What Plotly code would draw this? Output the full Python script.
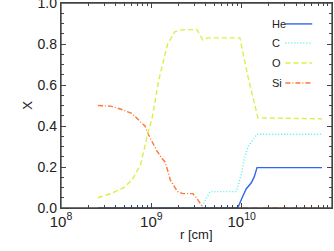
import plotly.graph_objects as go

# log10(r [cm]) and mass fractions
he_logr = [8.41, 9.956, 10.01, 10.05, 10.107, 10.14, 10.17, 10.89]
he_x    = [0.0,  0.0,   0.055, 0.093, 0.123, 0.153, 0.197, 0.197]

c_logr = [8.41, 9.55, 9.65, 9.94, 10.0, 10.03, 10.07, 10.12, 10.17, 10.89]
c_x    = [0.0,  0.0,  0.08, 0.08, 0.17, 0.24,  0.30,  0.33,  0.36,  0.36]

o_logr = [8.41, 8.55, 8.70, 8.79, 8.88, 8.93, 8.97, 9.01, 9.08, 9.18, 9.26, 9.35, 9.505, 9.57, 9.63, 9.98, 10.07, 10.18, 10.89]
o_x    = [0.05, 0.07, 0.10, 0.14, 0.21, 0.31, 0.38, 0.44, 0.62, 0.80, 0.86, 0.87, 0.87,  0.82, 0.83, 0.83, 0.64,  0.44,  0.435]

si_logr = [8.41, 8.55, 8.69, 8.79, 8.88, 8.93, 8.97, 9.01, 9.06, 9.12, 9.15, 9.19, 9.21, 9.29, 9.35, 9.46, 9.50, 9.575, 10.89]
si_x    = [0.50, 0.497, 0.478, 0.46, 0.42, 0.40, 0.356, 0.32, 0.28, 0.24, 0.226, 0.17, 0.137, 0.08, 0.07, 0.07, 0.05, 0.0, 0.0]

species = ["He", "C", "O", "Si"]
colors = ["#3366ee", "#55eeee", "#ddee44", "#ff7733"]
dashes = ["solid", "1px,2px", "5px,3px", "5px,2px,1px,2px"]

y_ticks = [0, 0.2, 0.4, 0.6, 0.8, 1.0]
y_tick_text = ["0.0", "0.2", "0.4", "0.6", "0.8", "1.0"]

series = [(he_logr, he_x), (c_logr, c_x), (o_logr, o_x), (si_logr, si_x)]

fig = go.Figure()
order = [2, 1, 3, 0]
for k, i in enumerate(order):
    lr, xv = series[i]
    on_overlay = (k == 0)
    fig.add_trace(go.Scatter(
        x=[10 ** v for v in lr], y=xv, mode="lines", name=species[i],
        line=dict(color=colors[i], width=1.4, dash=dashes[i]),
        showlegend=False,
        xaxis="x2" if on_overlay else "x", yaxis="y2" if on_overlay else "y"))

# legend drawn as text followed by a line sample
leg_y = [0.898, 0.805, 0.707, 0.61]
for i, name in enumerate(species):
    fig.add_annotation(xref="paper", yref="paper", x=0.772, y=leg_y[i],
                       text=name, showarrow=False, xanchor="left", yanchor="middle",
                       font=dict(size=11, color="#222"))
    fig.add_shape(type="line", xref="paper", yref="paper",
                  x0=0.828, x1=0.927, y0=leg_y[i], y1=leg_y[i],
                  line=dict(color=colors[i], width=1.4, dash=dashes[i]))

# axis titles
fig.add_annotation(xref="paper", yref="paper", x=-0.125, y=0.5, text="X",
                   xanchor="center", yanchor="middle",
                   showarrow=False, textangle=-90, font=dict(size=13, color="#222"))
fig.add_annotation(xref="paper", yref="paper", x=0.5, y=-0.13, text="r [cm]",
                   xanchor="center", yanchor="middle",
                   showarrow=False, font=dict(size=13, color="#222"))

LC = "#444"

# plot frame around the plotting area
fig.add_shape(type="rect", xref="paper", yref="paper", x0=0, x1=1, y0=0, y1=1,
              line=dict(color=LC, width=1.3), layer="above")

axis_common = dict(showline=True, linecolor=LC, linewidth=1.3,
                   ticks="inside", tickcolor=LC, ticklen=5, tickwidth=1,
                   showgrid=False, zeroline=False)
x_common = dict(type="log", range=[8, 11], dtick=1,
                minor=dict(ticks="inside", ticklen=3, dtick="D1", tickcolor=LC))
y_common = dict(range=[0, 1.0001], tickvals=y_ticks,
                minor=dict(ticks="inside", ticklen=3, dtick=0.05, tickcolor=LC))

fig.update_layout(
    xaxis=dict(exponentformat="power", tickfont=dict(size=12), **x_common, **axis_common),
    yaxis=dict(ticktext=y_tick_text, ticklabeloverflow="allow", tickfont=dict(size=14),
               **y_common, **axis_common),
    xaxis2=dict(overlaying="x", side="top", anchor="y", showticklabels=False,
                **x_common, **axis_common),
    yaxis2=dict(overlaying="y", side="right", anchor="x", showticklabels=False,
                **y_common, **axis_common),
    width=334, height=251,
    margin=dict(l=61, r=2, t=3, b=43, autoexpand=False),
    paper_bgcolor="white", plot_bgcolor="white",
    font=dict(family="Liberation Sans, Arial, sans-serif", size=13, color="#222"),
)

fig.write_html("out.html", config={"displayModeBar": False, "responsive": False},
               post_script="document.body.style.margin='0';")
